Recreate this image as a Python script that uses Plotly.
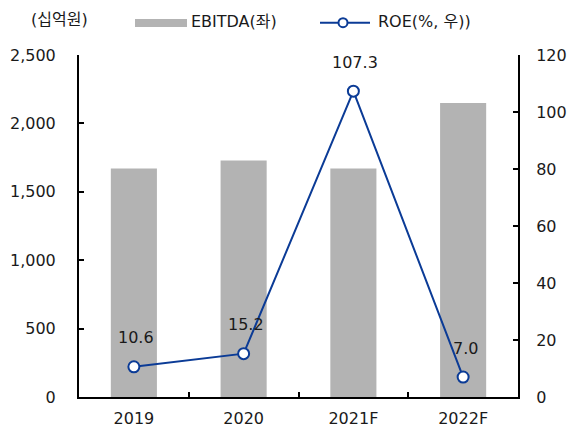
import plotly.graph_objects as go

categories = ["2019", "2020", "2021F", "2022F"]
ebitda = [1670, 1728, 1670, 2150]
roe = [10.6, 15.2, 107.3, 7.0]
roe_labels = ["10.6", "15.2", "107.3", "7.0"]

W, H = 568, 430
L, R, T, B = 79, 518, 55, 397
FONT = "DejaVu Sans, Noto Sans CJK KR, sans-serif"
TXT = "#1a1a1a"
BLUE = "#0b3b96"
GRAY = "#b3b3b3"

def px(x):
    return (x - L) / (R - L)

def py(y):
    return (B - y) / (B - T)

fig = go.Figure()
fig.add_trace(go.Bar(x=categories, y=ebitda, marker=dict(color=GRAY, line=dict(width=0)),
                     width=0.42, name="EBITDA(좌)", showlegend=False))
fig.add_trace(go.Scatter(x=categories, y=roe, yaxis="y2", mode="lines+markers",
                         line=dict(color=BLUE, width=2),
                         marker=dict(size=11, color="white", line=dict(color=BLUE, width=2)),
                         name="ROE(%, 우))", showlegend=False, cliponaxis=False))

annotations = []
for i, (v, t) in enumerate(zip(roe, roe_labels)):
    annotations.append(dict(x=i, xref="x", y=v, yref="y2", text=t, showarrow=False, yshift=29, xshift=2,
                            font=dict(family=FONT, size=16, color=TXT)))

annotations += [
    dict(x=px(59), y=py(20), xref="paper", yref="paper", text="(십억원)", showarrow=False,
         xanchor="center", yanchor="middle", font=dict(family=FONT, size=16, color=TXT)),
    dict(x=px(189), y=py(22), xref="paper", yref="paper", text="EBITDA(좌)", showarrow=False,
         xanchor="left", yanchor="middle", font=dict(family=FONT, size=16, color=TXT)),
    dict(x=px(376), y=py(22), xref="paper", yref="paper", text="ROE(%, 우))", showarrow=False,
         xanchor="left", yanchor="middle", font=dict(family=FONT, size=16, color=TXT)),
]

shapes = [
    dict(type="rect", xref="paper", yref="paper", x0=px(135), x1=px(187), y0=py(19), y1=py(27),
         fillcolor=GRAY, line=dict(width=0)),
    dict(type="line", xref="paper", yref="paper", x0=px(320), x1=px(370), y0=py(22.7), y1=py(22.7),
         line=dict(color=BLUE, width=2)),
    dict(type="circle", xref="paper", yref="paper", x0=px(338.5), x1=px(347.5), y0=py(18.2), y1=py(27.2),
         fillcolor="white", line=dict(color=BLUE, width=2)),
]

fig.update_layout(
    width=W, height=H,
    margin=dict(l=L, r=W - R, t=T, b=H - B, pad=0, autoexpand=False),
    paper_bgcolor="white", plot_bgcolor="white",
    font=dict(family=FONT, size=16, color=TXT),
    bargap=0.58,
    showlegend=False,
    xaxis=dict(type="category", range=[-0.5, 3.5], showline=True, linecolor="black", linewidth=2,
               ticks="inside", tickson="boundaries", ticklen=5, tickwidth=2, tickcolor="black",
               showgrid=False, ticklabelstandoff=6, automargin=False),
    yaxis=dict(range=[0, 2500], dtick=500, tickformat=",", showline=True, linecolor="black",
               linewidth=2, ticks="inside", ticklen=5, tickwidth=2, tickcolor="black",
               showgrid=False, zeroline=False, ticklabelstandoff=18, automargin=False),
    yaxis2=dict(range=[0, 120], dtick=20, overlaying="y", side="right", showline=True,
                linecolor="black", linewidth=2, ticks="inside", ticklen=5, tickwidth=2,
                tickcolor="black", showgrid=False, zeroline=False, ticklabelstandoff=13,
                automargin=False),
    annotations=annotations,
    shapes=shapes,
)

fig.write_html("out.html")
